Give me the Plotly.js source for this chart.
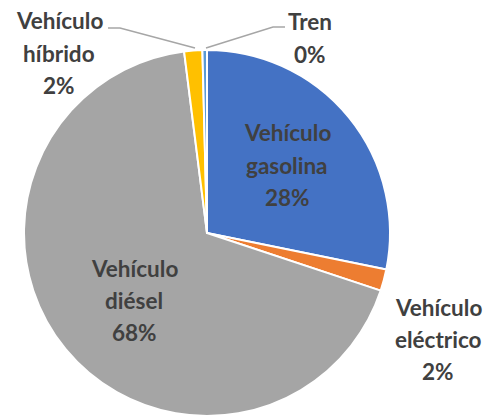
<!DOCTYPE html>
<html>
<head>
<meta charset="utf-8">
<script src="https://cdn.plot.ly/plotly-3.0.1.min.js"></script>
<style>html,body{margin:0;padding:0;background:#fff;}#chart{width:488px;height:418px;}</style>
</head>
<body>
<div id="chart"></div>
<script>
const categories = ["Vehículo gasolina", "Vehículo eléctrico", "Vehículo diésel", "Vehículo híbrido", "Tren"];
const values = [28.2, 1.9, 67.9, 1.6, 0.4];
const colors = ["#4472C4", "#ED7D31", "#A5A5A5", "#FFC000", "#5B9BD5"];

const W = 488, H = 418;
const px = x => x / W;
const py = y => 1 - y / H;

// label centres (pixels) for each category, first line y and line spacing
const labelPos = [
  {x: 287, y: 133},
  {x: 438, y: 307},
  {x: 134, y: 268},
  {x: 59, y: 21},
  {x: 310, y: 22}
];
const lineGap = 32;

const total = values.reduce((a, b) => a + b, 0);
const annotations = [];
categories.forEach((c, i) => {
  const lines = c.split(" ");
  lines.push(Math.round(values[i] / total * 100) + "%");
  lines.forEach((t, k) => {
    annotations.push({
      xref: "paper", yref: "paper",
      x: px(labelPos[i].x), y: py(labelPos[i].y + k * lineGap),
      xanchor: "center", yanchor: "middle",
      text: "<b>" + t + "</b>", showarrow: false,
      font: {family: "Lato, 'Open Sans', sans-serif", size: 22.5, color: "#404040"}
    });
  });
});

const pathOf = pts => pts.map((p, i) => (i ? "L" : "M") + px(p[0]).toFixed(5) + "," + py(p[1]).toFixed(5)).join(" ");
const shapes = [
  {type: "path", xref: "paper", yref: "paper", path: pathOf([[108, 28], [120, 28], [195, 48]]), line: {color: "#A6A6A6", width: 1.5}},
  {type: "path", xref: "paper", yref: "paper", path: pathOf([[285, 27], [273, 27], [206, 48]]), line: {color: "#A6A6A6", width: 1.5}}
];

const cx = 207, cy = 233, r = 183;
const trace = {
  type: "pie",
  labels: categories,
  values: values,
  sort: false,
  direction: "clockwise",
  rotation: 0,
  marker: {colors: colors, line: {color: "#FFFFFF", width: 2}},
  textinfo: "none",
  hoverinfo: "label+percent",
  showlegend: false,
  domain: {x: [px(cx - r), px(cx + r)], y: [py(cy + r), py(cy - r)]}
};

Plotly.newPlot("chart", [trace], {
  width: W, height: H,
  margin: {l: 0, r: 0, t: 0, b: 0},
  paper_bgcolor: "#FFFFFF",
  showlegend: false,
  annotations: annotations,
  shapes: shapes
}, {displayModeBar: false, staticPlot: true});
</script>
</body>
</html>
